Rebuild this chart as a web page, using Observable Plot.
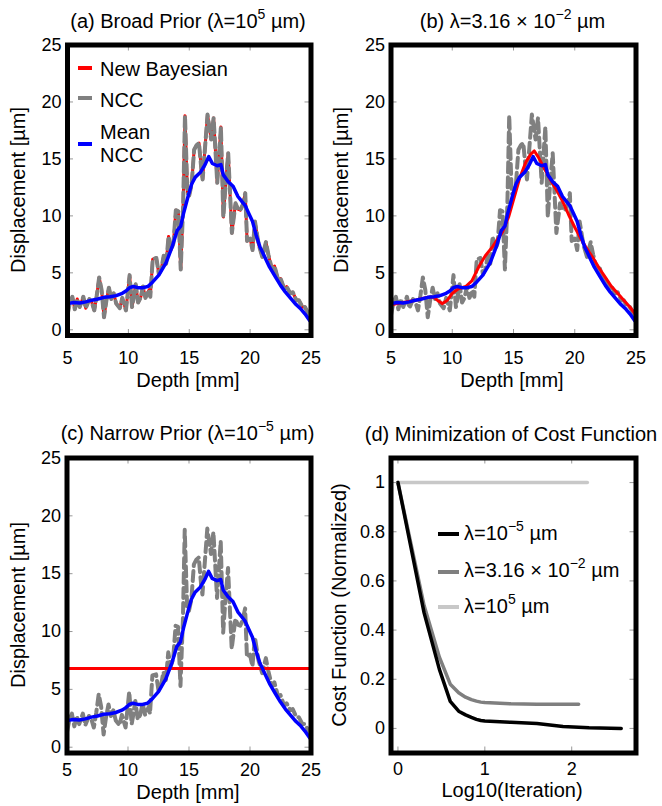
<!DOCTYPE html>
<html><head><meta charset="utf-8">
<script src="https://cdn.jsdelivr.net/npm/d3@7"></script>
<script src="https://cdn.jsdelivr.net/npm/@observablehq/plot@0.6"></script>
<style>
body{margin:0;background:#fff;}
#wrap{position:relative;width:662px;height:806px;overflow:hidden;font-family:"Liberation Sans",Arial,Helvetica,sans-serif;color:#000;}
.p{position:absolute;}
.t{position:absolute;font-size:20px;line-height:20px;white-space:nowrap;}
.c{transform:translateX(-50%);}
.r{transform:translate(-50%,-50%) rotate(-90deg);}
.s{font-size:14px;position:relative;top:-9px;}
.sw{position:absolute;height:4px;}
</style></head>
<body><div id="wrap"></div>
<script>
// ---------- data ----------
const depthTicks = [5, 10, 15, 20, 25];
const dispTicks = [0, 5, 10, 15, 20, 25];
const iterTicks = [0, 1, 2];
const costTicks = [0, 0.2, 0.4, 0.6, 0.8, 1];

// NCC displacement (also the broad-prior Bayesian estimate)
const nccDepth = [5.0,5.2,5.4,5.6,5.8,6.0,6.3,6.5,6.8,7.0,7.2,7.4,7.6,7.8,8.0,8.2,8.4,8.6,8.8,9.0,9.3,9.5,9.8,10.1,10.3,10.4,10.6,10.8,11.0,11.2,11.4,11.7,11.8,12.0,12.3,12.5,12.7,12.9,13.1,13.3,13.5,13.7,13.9,14.1,14.3,14.5,14.65,14.85,15.0,15.2,15.4,15.6,15.8,16.0,16.1,16.5,16.8,17.0,17.3,17.6,17.8,18.0,18.2,18.5,18.8,19.0,19.2,19.4,19.6,19.75,20.0,20.2,20.4,20.7,21.0,21.3,21.5,21.8,22.0,22.3,22.5,22.8,23.0,23.3,23.5,23.8,24.0,24.3,24.5,24.8,25.0];
const nccDisp = [1.3,2.4,2.9,1.8,2.7,2.0,2.9,1.9,2.7,2.4,1.7,3.0,4.6,3.5,1.1,2.6,3.7,2.7,3.2,2.3,1.9,2.8,1.7,4.8,2.0,2.6,4.0,2.4,2.8,3.8,2.8,3.5,2.9,6.2,6.3,4.9,5.3,6.5,5.8,8.2,7.0,7.6,10.5,10.4,5.3,11.0,18.8,12.0,11.8,12.8,15.8,16.2,16.4,14.0,13.2,18.9,16.7,18.6,12.9,17.8,9.9,13.0,15.5,8.5,11.1,10.6,10.5,11.0,12.0,7.8,8.0,7.0,9.5,7.5,6.4,7.7,6.6,5.3,5.6,4.4,4.5,3.6,3.8,3.2,3.3,2.6,2.6,2.0,2.0,1.4,1.0];

// Mean NCC
const meanDepth = [5.0,5.5,6.0,6.5,7.0,7.5,8.0,8.5,9.0,9.5,9.8,10.1,10.4,10.8,11.2,11.6,12.0,12.5,13.1,13.6,14.0,14.3,14.55,14.9,15.2,15.5,15.9,16.3,16.6,16.9,17.3,17.6,17.8,18.2,18.6,19.0,19.3,19.6,19.9,20.2,20.5,20.8,21.2,21.6,22.1,22.5,22.9,23.3,23.7,24.1,24.5,24.9,25.0];
const meanDisp = [2.3,2.4,2.35,2.45,2.6,2.7,2.85,2.9,3.0,3.2,3.4,3.7,3.8,3.7,3.7,3.8,4.2,4.8,5.9,7.3,8.7,9.1,10.3,11.7,12.8,13.4,13.8,14.5,15.2,14.6,14.4,14.5,13.6,13.0,12.6,11.7,11.3,10.9,10.2,9.5,8.3,7.3,6.4,5.5,4.6,3.9,3.3,2.8,2.3,1.9,1.4,0.8,0.7];

// New Bayesian, lambda = 3.16e-2 um
const bayesMidDepth = [5,6,7,8,8.5,8.9,9.2,9.6,10,10.5,11.1,11.6,12.2,12.7,13.3,14.1,14.6,15.0,15.5,16.0,16.4,16.7,17.0,17.5,18.0,18.5,19.0,19.5,20.0,20.5,21.0,21.5,22.0,22.5,23.0,23.5,24.0,24.5,25.0];
const bayesMidDisp = [2.2,2.4,2.6,2.85,2.85,2.5,2.3,2.6,3.2,3.6,3.8,4.3,5.6,6.5,7.3,8.6,9.9,11.4,13.3,14.7,15.4,15.7,15.2,14.2,13.2,12.3,11.3,10.1,9.0,8.0,7.1,6.3,5.4,4.6,3.8,3.2,2.6,2.0,1.3];

// New Bayesian, lambda = 1e-5 um (flat)
const bayesNarrowDepth = [5, 25];
const bayesNarrowDisp = [6.8, 6.8];

// Cost function vs log10(iteration)
const costNarrowX = [0,0.301,0.477,0.602,0.699,0.778,0.845,0.903,0.954,1.0,1.3,1.6,1.9,2.2,2.57];
const costNarrowY = [1,0.47,0.24,0.11,0.07,0.055,0.045,0.037,0.032,0.03,0.025,0.02,0.008,0.003,0.0];
const costMidX = [0,0.301,0.477,0.602,0.699,0.778,0.845,0.903,0.954,1.0,1.3,1.6,2.08];
const costMidY = [1,0.5,0.29,0.18,0.145,0.127,0.117,0.111,0.107,0.105,0.1,0.098,0.098];
const costBroadX = [0, 2.18];
const costBroadY = [1, 1];

// ---------- helpers ----------
const FONT = '"Liberation Sans", Arial, Helvetica, sans-serif';
const zip = (xs, ys) => xs.map((x, i) => ({x, y: ys[i]}));
const ncc = zip(nccDepth, nccDisp);
const mean = zip(meanDepth, meanDisp);
const bMid = zip(bayesMidDepth, bayesMidDisp);
const bNar = zip(bayesNarrowDepth, bayesNarrowDisp);
const cN = zip(costNarrowX, costNarrowY);
const cM = zip(costMidX, costMidY);
const cB = zip(costBroadX, costBroadY);

const RED = "#ff0000", GRAY = "#808080", BLUE = "#0000ff";
const lineRed = d => Plot.line(d, {x: "x", y: "y", stroke: RED, strokeWidth: 3, strokeLinejoin: "round"});
const lineGray = d => Plot.line(d, {x: "x", y: "y", stroke: GRAY, strokeWidth: 4, strokeDasharray: "10,5", strokeLinejoin: "round"});
const lineBlue = d => Plot.line(d, {x: "x", y: "y", stroke: BLUE, strokeWidth: 3.5, strokeLinejoin: "round"});

function panel({left, top, w, h, ml, mr, mt, mb, xd, yd, xt, yt, padX, marks}) {
  const iw = w - ml - mr, ih = h - mt - mb;
  const fmt = d => String(d);
  const svg = Plot.plot({
    width: w, height: h, marginLeft: ml, marginRight: mr, marginTop: mt, marginBottom: mb,
    x: {domain: xd}, y: {domain: yd},
    style: {fontFamily: FONT, fontSize: "18px", color: "#000", background: "none", overflow: "visible"},
    marks: [
      ...marks,
      Plot.ruleX(xt, {x: d => d, insetBottom: ih - 6, stroke: "#999", strokeWidth: 1}),
      Plot.ruleX(xt, {x: d => d, insetTop: ih - 6, stroke: "#999", strokeWidth: 1}),
      Plot.ruleY(yt, {y: d => d, insetRight: iw - 6, stroke: "#999", strokeWidth: 1}),
      Plot.ruleY(yt, {y: d => d, insetLeft: iw - 6, stroke: "#999", strokeWidth: 1}),
      Plot.frame({stroke: "#000", strokeWidth: 5}),
      Plot.axisX({ticks: xt, tickSize: 0, tickPadding: padX, tickFormat: fmt, label: null}),
      Plot.axisY({ticks: yt, tickSize: 0, tickPadding: 6, tickFormat: fmt, label: null})
    ]
  });
  svg.classList.add("p");
  svg.style.left = left + "px";
  svg.style.top = top + "px";
  document.getElementById("wrap").appendChild(svg);
}

const dispY = [-0.5, 25];
panel({left: 0, top: 0, w: 331, h: 400, ml: 67, mr: 20.5, mt: 44.5, mb: 65, xd: [5, 25], yd: dispY, xt: depthTicks, yt: dispTicks, padX: 16,
  marks: [lineRed(ncc), lineGray(ncc), lineBlue(mean)]});
panel({left: 331, top: 0, w: 331, h: 400, ml: 59.5, mr: 26.5, mt: 44.5, mb: 65, xd: [5, 25], yd: dispY, xt: depthTicks, yt: dispTicks, padX: 16,
  marks: [lineGray(ncc), lineRed(bMid), lineBlue(mean)]});
panel({left: 0, top: 400, w: 331, h: 406, ml: 66.5, mr: 20.5, mt: 57.5, mb: 53.5, xd: [5, 25], yd: dispY, xt: depthTicks, yt: dispTicks, padX: 10,
  marks: [lineGray(ncc), lineRed(bNar), lineBlue(mean)]});
panel({left: 331, top: 400, w: 331, h: 406, ml: 59.5, mr: 26.5, mt: 57.5, mb: 53.5, xd: [-0.08, 2.74], yd: [-0.1, 1.1], xt: iterTicks, yt: costTicks, padX: 9,
  marks: [
    Plot.line(cB, {x: "x", y: "y", stroke: "#c8c8c8", strokeWidth: 3.5}),
    Plot.line(cM, {x: "x", y: "y", stroke: "#7f7f7f", strokeWidth: 3.5, strokeLinejoin: "round"}),
    Plot.line(cN, {x: "x", y: "y", stroke: "#000", strokeWidth: 3.5, strokeLinejoin: "round"})
  ]});

// ---------- text ----------
const wrap = document.getElementById("wrap");
function txt(html, x, baseline, cls) {
  const d = document.createElement("div");
  d.className = "t " + (cls || "");
  d.innerHTML = html;
  d.style.left = x + "px";
  d.style.top = (baseline - 17) + "px";
  wrap.appendChild(d);
}
function rot(html, cx, cy) {
  const d = document.createElement("div");
  d.className = "t r";
  d.innerHTML = html;
  d.style.left = cx + "px";
  d.style.top = cy + "px";
  wrap.appendChild(d);
}
function sw(color, x1, x2, y, hgt) {
  const d = document.createElement("div");
  d.className = "sw";
  d.style.background = color;
  d.style.left = x1 + "px";
  d.style.width = (x2 - x1) + "px";
  d.style.top = (y - hgt / 2) + "px";
  d.style.height = hgt + "px";
  wrap.appendChild(d);
}
const S = s => `<span class="s">${s}</span>`;

txt(`(a) Broad Prior (λ=10${S("5")} µm)`, 188, 28, "c");
txt(`(b) λ=3.16 × 10${S("−2")} µm`, 512.5, 28, "c");
txt(`(c) Narrow Prior (λ=10${S("−5")} µm)`, 187.5, 440, "c");
txt(`(d) Minimization of Cost Function`, 511, 441, "c");

txt("Depth [mm]", 188, 387, "c");
txt("Depth [mm]", 512, 387, "c");
txt("Depth [mm]", 188, 799, "c");
txt("Log10(Iteration)", 512, 797, "c");

rot("Displacement [µm]", 18, 190);
rot("Displacement [µm]", 341, 190);
rot("Displacement [µm]", 18, 605);
rot("Cost Function (Normalized)", 339, 605);

// legend (a)
sw(RED, 78, 92, 68, 4);
sw(GRAY, 78, 92, 98, 4);
sw(BLUE, 78, 92, 144, 4);
txt("New Bayesian", 100, 76);
txt("NCC", 100, 107);
txt("Mean", 100, 139);
txt("NCC", 100, 162);

// legend (d)
sw("#000", 438, 459, 534, 3.5);
sw("#7f7f7f", 438, 459, 572, 3.5);
sw("#c8c8c8", 438, 459, 607, 3.5);
txt(`λ=10${S("−5")} µm`, 464, 540);
txt(`λ=3.16 × 10${S("−2")} µm`, 464, 577);
txt(`λ=10${S("5")} µm`, 464, 613);
</script>
</body></html>
